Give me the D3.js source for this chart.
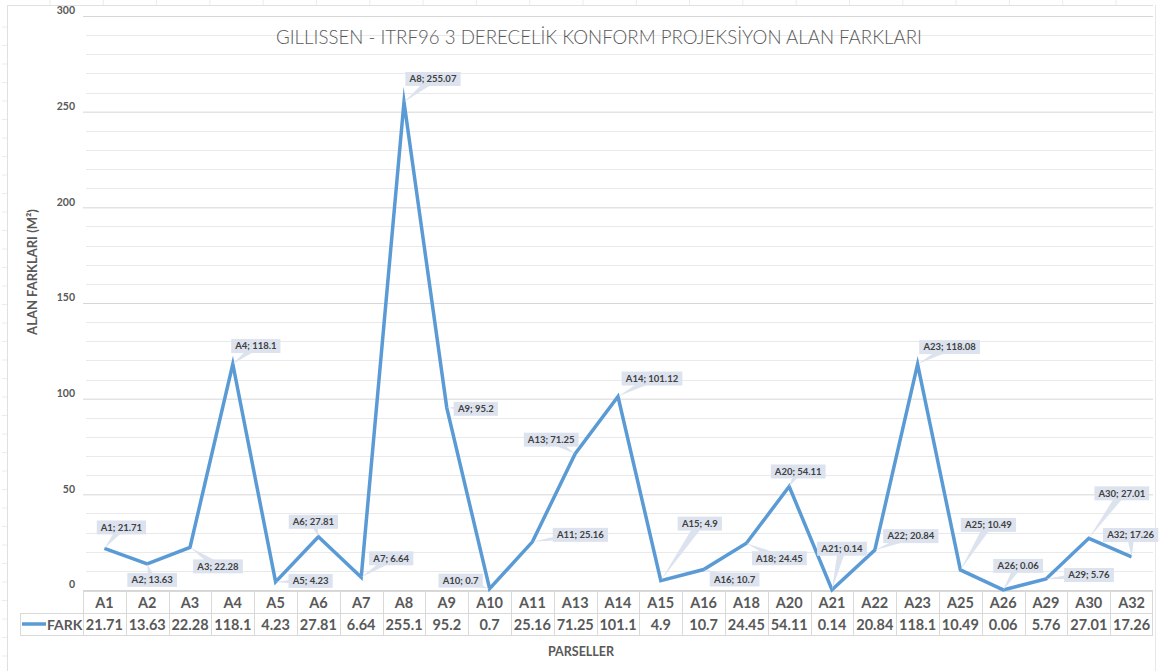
<!DOCTYPE html>
<html><head><meta charset="utf-8">
<script src="https://cdn.jsdelivr.net/npm/d3@7"></script>
<style>
html,body{margin:0;padding:0;background:#fff;}
svg{display:block;font-family:Lato,"Liberation Sans",sans-serif;}
</style></head>
<body><svg id="c" width="1159" height="671"></svg>
<script>
// ---- data ----
const categories = ["A1","A2","A3","A4","A5","A6","A7","A8","A9","A10","A11","A13","A14","A15","A16","A18","A20","A21","A22","A23","A25","A26","A29","A30","A32"];
const values = [21.71,13.63,22.28,118.1,4.23,27.81,6.64,255.07,95.2,0.7,25.16,71.25,101.12,4.9,10.7,24.45,54.11,0.14,20.84,118.08,10.49,0.06,5.76,27.01,17.26];
const tableValues = ["21.71","13.63","22.28","118.1","4.23","27.81","6.64","255.1","95.2","0.7","25.16","71.25","101.1","4.9","10.7","24.45","54.11","0.14","20.84","118.1","10.49","0.06","5.76","27.01","17.26"];
const labelTexts = ["A1; 21.71","A2; 13.63","A3; 22.28","A4; 118.1","A5; 4.23","A6; 27.81","A7; 6.64","A8; 255.07","A9; 95.2","A10; 0.7","A11; 25.16","A13; 71.25","A14; 101.12","A15; 4.9","A16; 10.7","A18; 24.45","A20; 54.11","A21; 0.14","A22; 20.84","A23; 118.08","A25; 10.49","A26; 0.06","A29; 5.76","A30; 27.01","A32; 17.26"];
const yTicks = [0,50,100,150,200,250,300];
const seriesName = "FARK";
const titleText = "GILLISSEN - ITRF96 3 DERECELİK KONFORM PROJEKSİYON ALAN FARKLARI";
const yTitle = "ALAN FARKLARI (M²)";
const xTitle = "PARSELLER";
// callout offsets (label centre relative to point), layout only
const labelOffsets = [[17,-21],[5,16],[28,19],[23,-18],[35,-1],[-5,-15],[30,-19],[29,-23],[29,1],[-29,-8],[48,-7],[-24,-14],[34,-18],[39,-57],[31,10],[33,15],[9,-15],[10,-41],[36,-14],[32,-17],[28,-45],[15,-24],[43,-4],[33,-45],[-1,-22]];

// ---- layout ----
const svg = d3.select("#c");
const W = 1159, H = 671;
const plotL = 83, plotR = 1153, plotT = 16, plotB = 590;
const gray = "#595959", lineCol = "#5b9bd5", boxCol = "#dde3ee";

// faint sheet frame
svg.append("line").attr("x1",7).attr("x2",1153).attr("y1",5.5).attr("y2",5.5).attr("stroke","#e0e0e0");
svg.append("line").attr("x1",7.5).attr("x2",7.5).attr("y1",5).attr("y2",H).attr("stroke","#e0e0e0");
svg.append("line").attr("x1",1155.5).attr("x2",1155.5).attr("y1",5).attr("y2",H).attr("stroke","#e8e8e8");
for (let x = 50; x < 1153; x += 53.3) svg.append("line").attr("x1",x).attr("x2",x).attr("y1",0).attr("y2",5).attr("stroke","#ececec");
for (let y = 27; y < H; y += 18.5) svg.append("line").attr("x1",2).attr("x2",7).attr("y1",y).attr("y2",y).attr("stroke","#ececec");

const x = d3.scaleBand().domain(categories).range([plotL, plotR]).padding(0);
const cx = d => x(d) + x.bandwidth()/2;
const y = d3.scaleLinear().domain([0,300]).range([plotB, plotT]);

// minor gridlines
const minor = d3.range(10,300,10).filter(v => v % 50 !== 0);
svg.append("g").selectAll("line").data(minor).join("line")
  .attr("x1",plotL+3).attr("x2",plotR).attr("y1",d=>Math.round(y(d))+0.5).attr("y2",d=>Math.round(y(d))+0.5)
  .attr("stroke","#e9e9e9").attr("stroke-width",1);
// major gridlines via axis
const yAxis = d3.axisLeft(y).tickValues(yTicks).tickSize(-(plotR-plotL)).tickPadding(8);
const ga = svg.append("g").attr("transform",`translate(${plotL},0)`).call(yAxis);
ga.select(".domain").remove();
ga.selectAll(".tick line").attr("stroke","#d6d6d6");
ga.selectAll(".tick text").attr("fill",gray).attr("font-size","10.5px").attr("font-weight","bold")
  .attr("font-family","Lato, sans-serif").attr("dy","-0.2em");

// title
svg.append("text").attr("x",599).attr("y",44).attr("text-anchor","middle")
  .attr("font-size","18.7px").attr("font-weight",300).attr("fill",gray).text(titleText);

// y title
svg.append("text").attr("transform",`translate(37,272) rotate(-90)`).attr("text-anchor","middle")
  .attr("font-size","13px").attr("font-weight","bold").attr("fill",gray).text(yTitle);

// data table
const tT = 591, tM = 613, tB = 635, legL = 20;
const tg = svg.append("g");
tg.append("line").attr("x1",plotL).attr("x2",plotR).attr("y1",tT+0.5).attr("y2",tT+0.5).attr("stroke","#d9d9d9");
tg.append("line").attr("x1",legL).attr("x2",plotR).attr("y1",tM+0.5).attr("y2",tM+0.5).attr("stroke","#d9d9d9");
tg.append("line").attr("x1",legL).attr("x2",plotR).attr("y1",tB+0.5).attr("y2",tB+0.5).attr("stroke","#d9d9d9");
tg.append("line").attr("x1",legL+0.5).attr("x2",legL+0.5).attr("y1",tM).attr("y2",tB).attr("stroke","#d9d9d9");
tg.selectAll(".vb").data(categories.concat(["_end"])).join("line")
  .attr("x1",d=> d==="_end"? plotR-0.5 : Math.round(x(d))+0.5)
  .attr("x2",d=> d==="_end"? plotR-0.5 : Math.round(x(d))+0.5)
  .attr("y1",tT).attr("y2",tB).attr("stroke","#d9d9d9");
tg.selectAll(".cat").data(categories).join("text")
  .attr("x",d=>cx(d)).attr("y",tT+17).attr("text-anchor","middle")
  .attr("font-size","14.5px").attr("font-weight","bold").attr("fill",gray).text(d=>d);
tg.selectAll(".val").data(tableValues).join("text")
  .attr("x",(d,i)=>cx(categories[i])).attr("y",tM+17).attr("text-anchor","middle")
  .attr("font-size","14.5px").attr("font-weight","bold").attr("fill",gray).text(d=>d);
tg.append("line").attr("x1",22).attr("x2",46).attr("y1",624).attr("y2",624).attr("stroke",lineCol).attr("stroke-width",3.5);
tg.append("text").attr("x",47).attr("y",tM+17).attr("font-size","14px").attr("font-weight","bold").attr("fill",gray).text(seriesName);

// x title
svg.append("text").attr("x",581).attr("y",656).attr("text-anchor","middle")
  .attr("font-size","12.5px").attr("font-weight","bold").attr("fill",gray).text(xTitle);

// line
const line = d3.line().x((d,i)=>cx(categories[i])).y(d=>y(d));
svg.append("path").datum(values).attr("d",line).attr("fill","none")
  .attr("stroke",lineCol).attr("stroke-width",3.5).attr("stroke-linejoin","miter").attr("stroke-miterlimit",10);

// callouts
const lg = svg.append("g");
values.forEach((v,i)=>{
  const px = cx(categories[i]), py = y(v);
  const lx = px + labelOffsets[i][0], ly = py + labelOffsets[i][1];
  const g = lg.append("g");
  const t = g.append("text").attr("x",lx).attr("y",ly+3.3).attr("text-anchor","middle")
    .attr("font-size","9.5px").attr("font-weight","bold").attr("fill","#404040").text(labelTexts[i]);
  const bb = t.node().getBBox();
  const bw = bb.width + 7, bh = 14;
  const ddx = px - lx, ddy = py - ly, len = Math.hypot(ddx,ddy) || 1;
  const nx = -ddy/len, ny = ddx/len, hw = 4;
  g.insert("path","text").attr("d",`M${lx+nx*hw},${ly+ny*hw}L${px},${py}L${lx-nx*hw},${ly-ny*hw}Z`).attr("fill",boxCol);
  g.insert("rect","text").attr("x",lx-bw/2).attr("y",ly-bh/2).attr("width",bw).attr("height",bh).attr("fill",boxCol);
});
</script></body></html>
